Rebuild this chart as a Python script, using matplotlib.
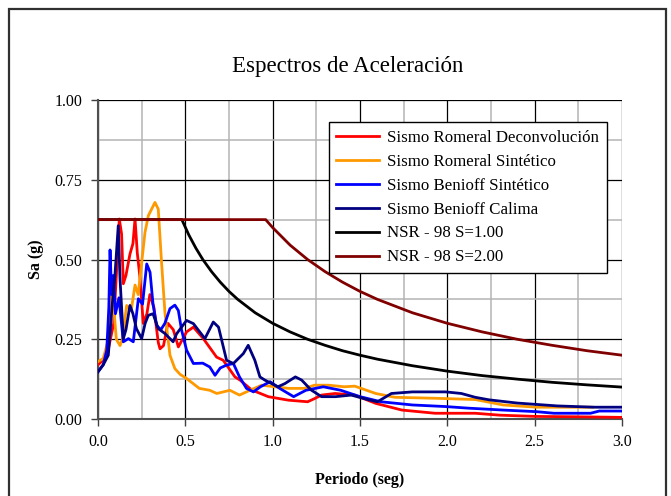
import matplotlib.pyplot as plt
from matplotlib.patches import Rectangle
from matplotlib.ticker import MultipleLocator

# Response spectra (period in s, Sa in g)
t_rom_dec = [0.0, 0.05, 0.09, 0.11, 0.122, 0.135, 0.145, 0.16, 0.183, 0.2, 0.212,
             0.225, 0.24, 0.259, 0.28, 0.297, 0.32, 0.345, 0.355, 0.375, 0.4,
             0.431, 0.46, 0.507, 0.546, 0.603, 0.679, 0.717, 0.784, 0.813, 0.88,
             0.975, 1.09, 1.2, 1.24, 1.28, 1.357, 1.47, 1.59, 1.74, 1.93, 2.16,
             2.3, 2.51, 2.74, 3.0]
sa_rom_dec = [0.17, 0.195, 0.3, 0.5, 0.627, 0.58, 0.424, 0.45, 0.517, 0.55, 0.627,
              0.52, 0.445, 0.30, 0.33, 0.39, 0.35, 0.24, 0.22, 0.23, 0.3,
              0.28, 0.226, 0.273, 0.288, 0.252, 0.194, 0.184, 0.132, 0.122, 0.091,
              0.07, 0.059, 0.054, 0.064, 0.075, 0.08, 0.075, 0.049, 0.028, 0.018,
              0.018, 0.012, 0.008, 0.007, 0.005]

t_rom_sin = [0.0, 0.03, 0.06, 0.075, 0.09, 0.105, 0.126, 0.14, 0.164, 0.19, 0.212,
             0.23, 0.25, 0.269, 0.288, 0.326, 0.345, 0.364, 0.383, 0.412, 0.44,
             0.47, 0.507, 0.58, 0.64, 0.68, 0.755, 0.81, 0.87, 0.937, 1.013,
             1.09, 1.18, 1.24, 1.32, 1.41, 1.47, 1.59, 1.70, 1.93, 2.16, 2.32,
             2.51, 2.83]
sa_rom_sin = [0.18, 0.19, 0.25, 0.45, 0.35, 0.25, 0.23, 0.25, 0.356, 0.34, 0.42,
              0.39, 0.49, 0.585, 0.637, 0.679, 0.658, 0.49, 0.335, 0.20, 0.158,
              0.14, 0.127, 0.096, 0.09, 0.08, 0.09, 0.075, 0.09, 0.106, 0.101,
              0.096, 0.096, 0.106, 0.106, 0.101, 0.103, 0.08, 0.068, 0.065, 0.061,
              0.044, 0.037, 0.037]

t_ben_sin = [0.0, 0.03, 0.05, 0.062, 0.069, 0.078, 0.088, 0.1, 0.12, 0.145, 0.174,
             0.202, 0.231, 0.255, 0.279, 0.298, 0.315, 0.336, 0.36, 0.383, 0.412,
             0.44, 0.46, 0.478, 0.507, 0.546, 0.6, 0.64, 0.67, 0.7, 0.736, 0.775,
             0.81, 0.85, 0.89, 0.93, 0.985, 1.04, 1.12, 1.19, 1.29, 1.39, 1.50,
             1.62, 1.80, 1.99, 2.12, 2.32, 2.51, 2.61, 2.82, 2.87, 3.0]
sa_ben_sin = [0.148, 0.17, 0.215, 0.35, 0.53, 0.39, 0.45, 0.33, 0.38, 0.242, 0.252,
              0.242, 0.377, 0.36, 0.486, 0.46, 0.36, 0.293, 0.28, 0.3, 0.346,
              0.357, 0.34, 0.28, 0.216, 0.174, 0.175, 0.163, 0.137, 0.16, 0.169, 0.174,
              0.132, 0.096, 0.085, 0.101, 0.117, 0.096, 0.07, 0.09, 0.101, 0.09, 0.07,
              0.054, 0.044, 0.039, 0.034, 0.028, 0.023, 0.018, 0.018, 0.025, 0.025]

t_ben_cal = [0.0, 0.03, 0.059, 0.08, 0.097, 0.116, 0.126, 0.145, 0.16, 0.183, 0.2,
             0.22, 0.25, 0.27, 0.288, 0.315, 0.345, 0.383, 0.43, 0.45, 0.507,
             0.546, 0.612, 0.66, 0.69, 0.717, 0.736, 0.775, 0.832, 0.86, 0.898,
             0.927, 0.955, 1.03, 1.07, 1.13, 1.166, 1.22, 1.28, 1.36, 1.45, 1.55,
             1.60, 1.68, 1.80, 1.99, 2.08, 2.16, 2.24, 2.4, 2.63, 2.84, 3.0]
sa_ben_cal = [0.148, 0.17, 0.2, 0.35, 0.45, 0.606, 0.44, 0.252, 0.28, 0.356, 0.33,
              0.283, 0.252, 0.3, 0.325, 0.33, 0.283, 0.268, 0.242, 0.267, 0.309,
              0.299, 0.252, 0.304, 0.288, 0.227, 0.184, 0.174, 0.205, 0.231, 0.184,
              0.132, 0.122, 0.101, 0.111, 0.132, 0.122, 0.091, 0.07, 0.07, 0.075, 0.06,
              0.054, 0.08, 0.085, 0.085, 0.08, 0.068, 0.06, 0.05, 0.041, 0.037, 0.037]

# NSR-98 design spectra
t_nsr1 = [0.0, 0.48, 0.52, 0.56, 0.6, 0.65, 0.7, 0.75, 0.8, 0.9, 1.0, 1.1, 1.2,
          1.3, 1.4, 1.5, 1.6, 1.8, 2.0, 2.2, 2.4, 2.6, 2.8, 3.0]
sa_nsr1 = [0.625, 0.625, 0.577, 0.536, 0.50, 0.462, 0.429, 0.40, 0.375, 0.333,
           0.30, 0.273, 0.25, 0.231, 0.214, 0.20, 0.1875, 0.167, 0.15, 0.136,
           0.125, 0.115, 0.107, 0.10]

t_nsr2 = [0.0, 0.96, 1.0, 1.1, 1.2, 1.3, 1.4, 1.5, 1.6, 1.8, 2.0, 2.2, 2.4, 2.6,
          2.8, 3.0]
sa_nsr2 = [0.625, 0.625, 0.60, 0.545, 0.50, 0.462, 0.429, 0.40, 0.375, 0.333,
           0.30, 0.273, 0.25, 0.231, 0.214, 0.20]

series = [
    (t_rom_dec, sa_rom_dec, '#FF0000', 'Sismo Romeral Deconvolución'),
    (t_rom_sin, sa_rom_sin, '#FF9900', 'Sismo Romeral Sintético'),
    (t_ben_sin, sa_ben_sin, '#0000FF', 'Sismo Benioff Sintético'),
    (t_ben_cal, sa_ben_cal, '#000080', 'Sismo Benioff Calima'),
    (t_nsr1, sa_nsr1, '#000000', 'NSR - 98 S=1.00'),
    (t_nsr2, sa_nsr2, '#800000', 'NSR - 98 S=2.00'),
]

plt.rcParams['font.family'] = ['Liberation Serif', 'DejaVu Serif']

fig = plt.figure(figsize=(6.71, 4.96), dpi=100)
ax = fig.add_axes([98 / 671, 77 / 496, 524 / 671, 319 / 496])

for t, sa, color, label in series:
    ax.plot(t, sa, color=color, lw=2.0, label=label, zorder=3)

ax.set_xlim(0, 3.0)
ax.set_ylim(0, 1.0)
ax.xaxis.set_major_locator(MultipleLocator(0.5))
ax.xaxis.set_minor_locator(MultipleLocator(0.25))
ax.yaxis.set_major_locator(MultipleLocator(0.25))
ax.yaxis.set_minor_locator(MultipleLocator(0.125))
ax.xaxis.set_major_formatter(lambda v, p: f'{v:.1f}')
ax.yaxis.set_major_formatter(lambda v, p: f'{v:.2f}')

ax.grid(which='major', color='#000000', lw=0.9, zorder=1)
ax.grid(which='minor', color='#b4b4b4', lw=1.1, zorder=0)
ax.tick_params(which='major', direction='out', length=5, width=1, labelsize=11.5,
               color='#404040', pad=6)
ax.tick_params(which='minor', length=0)
for side in ['top', 'right']:
    ax.spines[side].set_visible(False)
for side in ['left', 'bottom']:
    ax.spines[side].set_color('#505050')
    ax.spines[side].set_linewidth(1.5)

ax.set_xlabel('Periodo (seg)', fontsize=11.5, fontweight='bold', labelpad=16)
ax.set_ylabel('Sa (g)', fontsize=11.5, fontweight='bold', labelpad=8)

fig.text(348 / 671, 1 - 67 / 496, 'Espectros de Aceleración', fontsize=16.5,
         ha='center', va='center')

leg = ax.legend(loc='upper right', bbox_to_anchor=(0.971, 0.931), fontsize=12.2,
                frameon=True, fancybox=False, framealpha=1, edgecolor='#000000',
                handlelength=2.5, labelspacing=0.47, borderpad=0.45,
                handletextpad=0.5, borderaxespad=0)
leg.get_frame().set_linewidth(1.0)

# outer chart border
fig.patches.append(Rectangle((9 / 671, -0.05), 657 / 671, 1.05 - 9 / 496,
                             transform=fig.transFigure, fill=False,
                             edgecolor='#303030', lw=1.6))

fig.savefig('out.png', dpi=100)
